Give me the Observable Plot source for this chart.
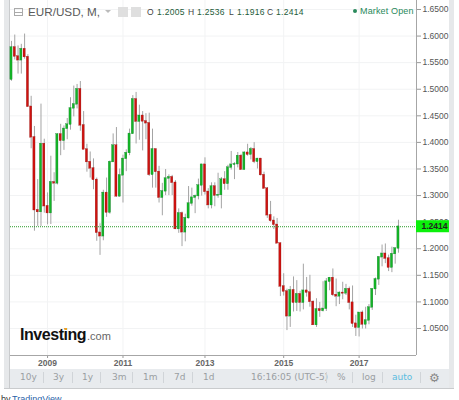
<!DOCTYPE html>
<html><head><meta charset="utf-8">
<script src="https://cdn.jsdelivr.net/npm/d3@7"></script>
<script src="https://cdn.jsdelivr.net/npm/@observablehq/plot@0.6"></script>
<style>
html,body{margin:0;padding:0;background:#fff;overflow:hidden}
#wrap{position:relative;width:459px;height:400px;font-family:"Liberation Sans",Arial,sans-serif;overflow:hidden}
#wrap svg{position:absolute;left:0;top:0;background:transparent}
.t{position:absolute;white-space:nowrap;line-height:1}
.s{position:absolute;width:1px;top:372px;height:11px;background:#d0d4d8}
</style></head><body><div id="wrap"></div>
<script>
const opens=[1.518,1.5785,1.5615,1.5545,1.5755,1.5605,1.467,1.4095,1.2725,1.269,1.397,1.28,1.267,1.325,1.323,1.415,1.403,1.4255,1.4335,1.464,1.4715,1.5,1.432,1.3865,1.363,1.351,1.3295,1.23,1.2235,1.305,1.268,1.363,1.394,1.2985,1.338,1.369,1.38,1.416,1.481,1.439,1.45,1.4395,1.436,1.339,1.387,1.3445,1.296,1.308,1.332,1.3345,1.324,1.237,1.2665,1.231,1.2575,1.285,1.296,1.299,1.319,1.358,1.307,1.282,1.317,1.3,1.301,1.33,1.322,1.3525,1.358,1.359,1.3745,1.3485,1.3805,1.377,1.387,1.3635,1.369,1.3385,1.313,1.263,1.2525,1.245,1.21,1.129,1.1195,1.073,1.122,1.0985,1.1145,1.0985,1.121,1.1175,1.1,1.0565,1.086,1.083,1.087,1.138,1.145,1.113,1.1105,1.117,1.116,1.124,1.0985,1.059,1.0515,1.0795,1.0575,1.065,1.0895,1.124,1.1425,1.184,1.1905,1.1815,1.1645,1.19,1.2005];
const closes=[1.5785,1.5615,1.5545,1.5755,1.5605,1.467,1.4095,1.2725,1.269,1.397,1.28,1.267,1.325,1.323,1.415,1.403,1.4255,1.4335,1.464,1.4715,1.5,1.432,1.3865,1.363,1.351,1.3295,1.23,1.2235,1.305,1.268,1.363,1.394,1.2985,1.338,1.369,1.38,1.416,1.481,1.439,1.45,1.4395,1.436,1.339,1.387,1.3445,1.296,1.308,1.332,1.3345,1.324,1.237,1.2665,1.231,1.2575,1.285,1.296,1.299,1.319,1.358,1.307,1.282,1.317,1.3,1.301,1.33,1.322,1.3525,1.358,1.359,1.3745,1.3485,1.3805,1.377,1.387,1.3635,1.369,1.3385,1.313,1.263,1.2525,1.245,1.21,1.129,1.1195,1.073,1.122,1.0985,1.1145,1.0985,1.121,1.1175,1.1,1.0565,1.086,1.083,1.087,1.138,1.145,1.113,1.1105,1.117,1.116,1.124,1.0985,1.059,1.0515,1.0795,1.0575,1.065,1.0895,1.124,1.1425,1.184,1.1905,1.1815,1.1645,1.19,1.2005,1.2414];
const highs=[1.59,1.6019,1.5815,1.5845,1.6038,1.565,1.4867,1.43,1.33,1.472,1.406,1.305,1.374,1.343,1.416,1.434,1.431,1.445,1.484,1.506,1.509,1.5145,1.458,1.3965,1.382,1.369,1.333,1.247,1.31,1.333,1.365,1.416,1.428,1.35,1.376,1.386,1.425,1.488,1.494,1.47,1.458,1.454,1.455,1.425,1.387,1.355,1.323,1.349,1.339,1.338,1.328,1.275,1.269,1.265,1.317,1.314,1.301,1.331,1.359,1.371,1.313,1.324,1.324,1.342,1.334,1.345,1.357,1.383,1.362,1.381,1.3775,1.3825,1.3965,1.3905,1.3995,1.37,1.37,1.344,1.315,1.289,1.26,1.257,1.21,1.153,1.124,1.129,1.147,1.14,1.12,1.171,1.146,1.15,1.102,1.106,1.099,1.138,1.144,1.146,1.162,1.143,1.119,1.137,1.133,1.128,1.13,1.075,1.077,1.083,1.09,1.095,1.125,1.145,1.185,1.207,1.209,1.188,1.203,1.202,1.2536];
const lows=[1.515,1.555,1.5285,1.5285,1.5565,1.466,1.388,1.233,1.242,1.242,1.267,1.245,1.2455,1.289,1.32,1.375,1.385,1.405,1.423,1.448,1.463,1.421,1.3865,1.344,1.333,1.311,1.214,1.1875,1.215,1.259,1.265,1.362,1.297,1.297,1.286,1.345,1.375,1.415,1.397,1.404,1.384,1.405,1.336,1.314,1.314,1.286,1.262,1.3,1.3,1.3,1.236,1.229,1.204,1.213,1.256,1.28,1.266,1.292,1.299,1.301,1.275,1.275,1.279,1.295,1.275,1.31,1.31,1.348,1.33,1.352,1.348,1.348,1.374,1.367,1.36,1.35,1.337,1.313,1.257,1.25,1.236,1.21,1.11,1.111,1.046,1.052,1.081,1.082,1.081,1.085,1.109,1.09,1.056,1.052,1.071,1.081,1.082,1.121,1.11,1.091,1.095,1.104,1.112,1.085,1.052,1.035,1.034,1.049,1.049,1.057,1.084,1.112,1.131,1.166,1.172,1.157,1.155,1.171,1.1916];
const yTicks=[1.05,1.1,1.15,1.2,1.25,1.3,1.35,1.4,1.45,1.5,1.55,1.6,1.65];
const xTickIndex=[11,34,59,83,106];
const xTickLabels=["2009","2011","2013","2015","2017"];
const lastPrice=1.2414;
const candles=opens.map((o,i)=>({i,o,c:closes[i],h:highs[i],l:lows[i]}));
const up="#14b526",down="#cf120f",upB="#0f7a2a",downB="#8c1512";
const axisFont="'Liberation Sans',Arial,sans-serif";
const yMin=0.9992,yMax=1.6669,xMin=-0.3,xMax=123.5;
const chart=Plot.plot({
  width:459,height:372,marginLeft:10,marginRight:43,marginTop:0,marginBottom:17,
  style:{background:"transparent",fontFamily:axisFont,fontSize:"9px",color:"#555"},
  x:{domain:[xMin,xMax],axis:null},
  y:{domain:[yMin,yMax],axis:null},
  marks:[
    Plot.ruleY(yTicks,{stroke:"#f2f3f4",strokeWidth:1}),
    Plot.ruleX(xTickIndex,{stroke:"#f2f3f4",strokeWidth:1}),
    Plot.axisY({anchor:"right",ticks:yTicks,tickSize:4,tickPadding:2,tickFormat:d=>d.toFixed(4),stroke:"#999",fill:"#555",label:null,fontSize:8.5}),
    Plot.axisX({anchor:"bottom",ticks:xTickIndex,tickSize:3,tickPadding:1,tickFormat:d=>xTickLabels[xTickIndex.indexOf(d)],stroke:"#999",fill:"#666",label:null,fontWeight:"bold",fontSize:8.5}),
    Plot.ruleX([xMax],{stroke:"#a6a6a6",strokeWidth:1}),
    Plot.ruleY([yMin],{stroke:"#a6a6a6",strokeWidth:1}),
    Plot.ruleX(candles,{x:"i",y1:"l",y2:"h",stroke:"#a4a4a4",strokeWidth:1}),
    Plot.rect(candles,{x1:d=>d.i-0.33,x2:d=>d.i+0.33,y1:d=>Math.min(d.o,d.c)-0.0006,y2:d=>Math.max(d.o,d.c)+0.0006,
      fill:d=>d.c>=d.o?up:down,stroke:d=>d.c>=d.o?upB:downB,strokeWidth:0.3}),
    Plot.ruleY([lastPrice],{stroke:"#2a9a2a",strokeWidth:1,strokeDasharray:"1,1"}),
    Plot.rect([lastPrice],{x1:xMax,x2:xMax+10.05,y1:d=>d-0.0113,y2:d=>d+0.0113,fill:"#0bf00b"}),
    Plot.text([lastPrice],{x:xMax,y:d=>d,dx:5,textAnchor:"start",text:d=>d.toFixed(4),fill:"#222",fontSize:8.5,fontWeight:"bold"})
  ]
});
const w=document.getElementById("wrap");
function box(l,t,wd,h,c){const d=document.createElement("div");d.style.cssText=`position:absolute;left:${l}px;top:${t}px;width:${wd}px;height:${h}px;background:${c}`;w.appendChild(d);return d;}
function txt(s,l,t,css){const d=document.createElement("div");d.className="t";d.textContent=s;d.style.cssText=`left:${l}px;top:${t}px;${css}`;w.appendChild(d);return d;}
// frame
box(4,0,5,389,"#e6e8ea");box(9,0,1,389,"#c9cbcd");
box(449,0,5,389,"#e6e8ea");box(4,388,450,1,"#c9cbcd");
box(10,369,439,19,"#e8ebee");
w.appendChild(chart);
// header
const ic=box(14,8,9,8,"transparent");ic.style.border="1px solid #aaa";ic.style.boxSizing="border-box";box(14,12,9,1,"#aaa");
txt("EUR/USD, M,",28,6,"font-size:11.7px;color:#5a5a5a");
const caret=box(105,10,0,0,"transparent");caret.style.cssText+=";border-left:3px solid transparent;border-right:3px solid transparent;border-top:3px solid #bbb";
box(118,7,10,10,"#dfdfdf");box(131,7,10,10,"#dfdfdf");
const hd="font-size:8.5px;letter-spacing:.3px;";
[["O",147,"#444"],["1.2005",157,"#1d5c3a"],["H",188,"#444"],["1.2536",197,"#1d5c3a"],["L",229,"#444"],["1.1916",237,"#1d5c3a"],["C",267,"#444"],["1.2414",276,"#1d5c3a"]]
 .forEach(([s,x,c])=>txt(s,x,8,hd+`color:${c}`));
const dot=box(353,9,4,4,"#2a8a5c");dot.style.borderRadius="50%";
txt("Market Open",360,7,"font-size:9px;letter-spacing:.15px;color:#2a8a5c");
// logo
txt("Investing",20,327,"font-size:16px;font-weight:bold;color:#111;letter-spacing:-.45px");
txt(".com",87,331,"font-size:11px;color:#666");
box(65,328,2,2,"#f0a020");
// toolbar
[["10y",20],["3y",53],["1y",82],["3m",112],["1m",143],["7d",174],["1d",203],["16:16:05 (UTC-5)",251],["%",337],["log",362]].forEach(([s,x])=>{txt(s,x,373,"font-family:'DejaVu Sans',sans-serif;font-size:9px;color:#9a9ea2");});
txt("auto",392,373,"font-family:'DejaVu Sans',sans-serif;font-size:9px;color:#5bbce0");
[43,72,100,132,163,192,326,352,382,420].forEach(x=>{const s=document.createElement("div");s.className="s";s.style.left=x+"px";w.appendChild(s);});
txt("⚙",429,372,"font-size:12px;color:#888;font-family:'DejaVu Sans',sans-serif");
// footer
txt("by ",1,395,"font-size:9px;color:#333");
txt("TradingView",12,395,"font-size:9px;color:#2a5fa8");
</script></body></html>
